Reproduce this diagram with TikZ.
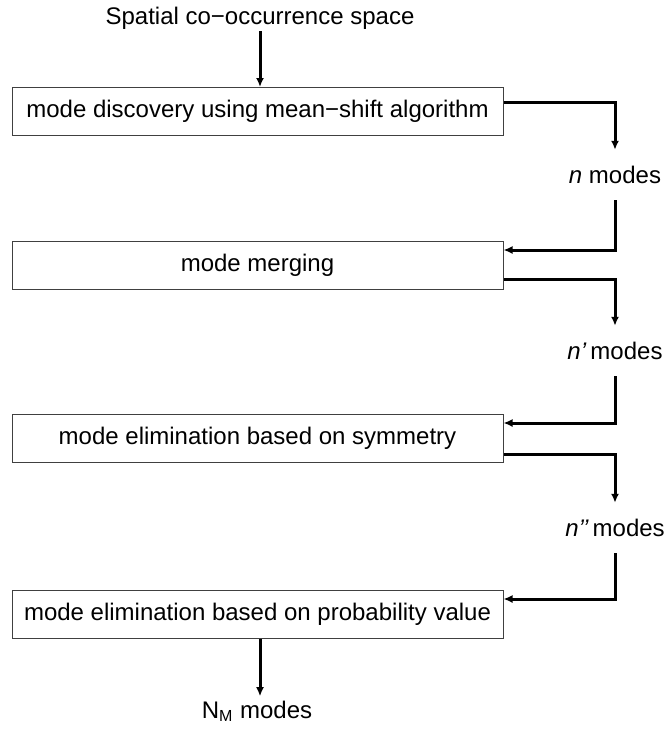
\documentclass[tikz,border=0pt]{standalone}
\usepackage{fontspec}
\setmainfont{Liberation Sans}
\usepackage{tikz}
\usetikzlibrary{arrows.meta,positioning}
\tikzset{
  stagebox/.style={
    draw=black!75,
    line width=0.5pt,
    fill=white,
    minimum width=245.5pt,
    minimum height=24pt,
    inner sep=0pt,
    font=\fontsize{12}{14}\selectfont
  },
  countlabel/.style={
    inner sep=8pt,
    font=\fontsize{12}{14}\selectfont
  },
  flowline/.style={
    line width=1.5pt,
    -{Latex[length=4.5pt,width=4pt]}
  }
}

\begin{document}
\begin{tikzpicture}[x=0.5pt,y=-0.5pt]
\useasboundingbox (0,0) rectangle (670,729);
\node[inner sep=1pt, font=\fontsize{12}{14}\selectfont, anchor=base] (title) at (260,24) {Spatial co−occurrence space};
\node[stagebox] (s1) at (257.5,111.5) {mode discovery using mean−shift algorithm};
\node[stagebox] (s2) at (257.5,265) {mode merging};
\node[stagebox] (s3) at (257.5,438.5) {mode elimination based on symmetry};
\node[stagebox] (s4) at (257.5,614.5) {mode elimination based on probability value};
\node[countlabel] (n1) at (615,175) {\textit{n} modes};
\node[countlabel] (n2) at (615,351) {\textit{n’}\,modes};
\node[countlabel] (n3) at (615,528) {\textit{n’’}\,modes};
\node[countlabel, inner sep=2pt, anchor=base] (nm) at (257,718) {N\textsubscript{M} modes};
\draw[flowline] (title.south) -- (title.south |- s1.north);
\draw[flowline] ([yshift=4.75pt]s1.east) -| (n1.north);
\draw[flowline] (n1.south) |- ([yshift=7.5pt]s2.east);
\draw[flowline] ([yshift=-7pt]s2.east) -| (n2.north);
\draw[flowline] (n2.south) |- ([yshift=7.75pt]s3.east);
\draw[flowline] ([yshift=-7.75pt]s3.east) -| (n3.north);
\draw[flowline] (n3.south) |- ([yshift=7.75pt]s4.east);
\draw[flowline] (s4.south -| title.south) -- (nm.north -| title.south);
\end{tikzpicture}
\end{document}
